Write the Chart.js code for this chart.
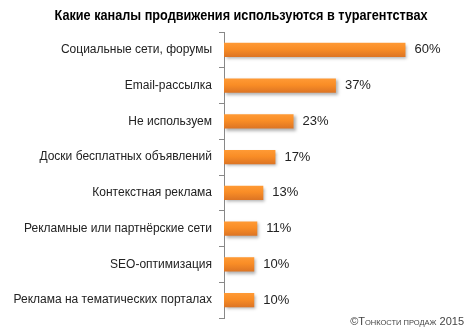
<!DOCTYPE html>
<html><head><meta charset="utf-8">
<script src="https://cdn.jsdelivr.net/npm/chart.js@4"></script>
<style>
html,body{margin:0;padding:0;background:#fff;}
#wrap{position:relative;width:472px;height:334px;}
#foot{position:absolute;right:8px;bottom:5px;font:11px "Liberation Sans",Arial,sans-serif;color:#444;line-height:12px;}
#foot .sc{font-size:7.5px;}
</style></head>
<body>
<div id="wrap"><canvas id="c" width="472" height="334"></canvas>
<div id="foot">©Т<span class="sc">ОНКОСТИ ПРОДАЖ</span> 2015</div></div>
<script>
const titleText = 'Какие каналы продвижения используются в турагентствах';
const categories = ['Социальные сети, форумы','Email-рассылка','Не используем','Доски бесплатных объявлений','Контекстная реклама','Рекламные или партнёрские сети','SEO-оптимизация','Реклама на тематических порталах'];
const values = [60, 37, 23, 17, 13, 11, 10, 10];
const valueLabels = ['60%','37%','23%','17%','13%','11%','10%','10%'];

const narrowTitle = {
  id:'narrowTitle',
  afterDraw(chart){
    const ctx = chart.ctx;
    ctx.save();
    ctx.font = 'bold 14px "Liberation Sans", Arial, sans-serif';
    ctx.fillStyle = '#000';
    ctx.textBaseline = 'middle';
    ctx.textAlign = 'center';
    const w = ctx.measureText(titleText).width;
    const sx = 373 / w;
    ctx.translate(241, 16);
    ctx.scale(sx, 1);
    ctx.fillText(titleText, 0, 0);
    ctx.restore();
  }
};

const barStyle = {
  id:'barStyle',
  beforeDatasetsDraw(chart){
    const ctx = chart.ctx;
    const meta = chart.getDatasetMeta(0);
    meta.data.forEach(el=>{
      const h = el.height;
      const g = ctx.createLinearGradient(0, el.y - h/2, 0, el.y + h/2);
      g.addColorStop(0,'#ff9a35');
      g.addColorStop(0.45,'#f98d26');
      g.addColorStop(1,'#dc7424');
      el.options = Object.assign({}, el.options, {backgroundColor:g});
    });
    ctx.save();
    ctx.shadowColor='rgba(0,0,0,0.3)';
    ctx.shadowOffsetX=2; ctx.shadowOffsetY=2; ctx.shadowBlur=3;
  },
  afterDatasetsDraw(chart){
    const ctx = chart.ctx;
    ctx.restore();
    const meta = chart.getDatasetMeta(0);
    ctx.save();
    ctx.font = '13px "Liberation Sans", Arial, sans-serif';
    ctx.fillStyle = '#222';
    ctx.textBaseline='middle';
    ctx.textAlign='left';
    meta.data.forEach((el,i)=>{
      ctx.fillText(valueLabels[i], el.x + 9, el.y);
    });
    ctx.restore();
  }
};

new Chart(document.getElementById('c'), {
  type:'bar',
  data:{labels:categories, datasets:[{data:values, barPercentage:0.4, categoryPercentage:1, borderWidth:0}]},
  options:{
    indexAxis:'y', responsive:false, animation:false,
    layout:{padding:{left:10,right:0,top:32,bottom:16}},
    plugins:{legend:{display:false}, tooltip:{enabled:false}, title:{display:false}},
    scales:{
      x:{display:false, min:0, max:82},
      y:{
        afterFit(s){ s.width = 214; },
        grid:{offset:true, drawOnChartArea:false, tickLength:5, color:'#888'},
        border:{color:'#888', width:1},
        ticks:{color:'#222', padding:7, font:{family:'"Liberation Sans", Arial, sans-serif', size:12}}
      }
    }
  },
  plugins:[barStyle, narrowTitle]
});
</script>
</body></html>
